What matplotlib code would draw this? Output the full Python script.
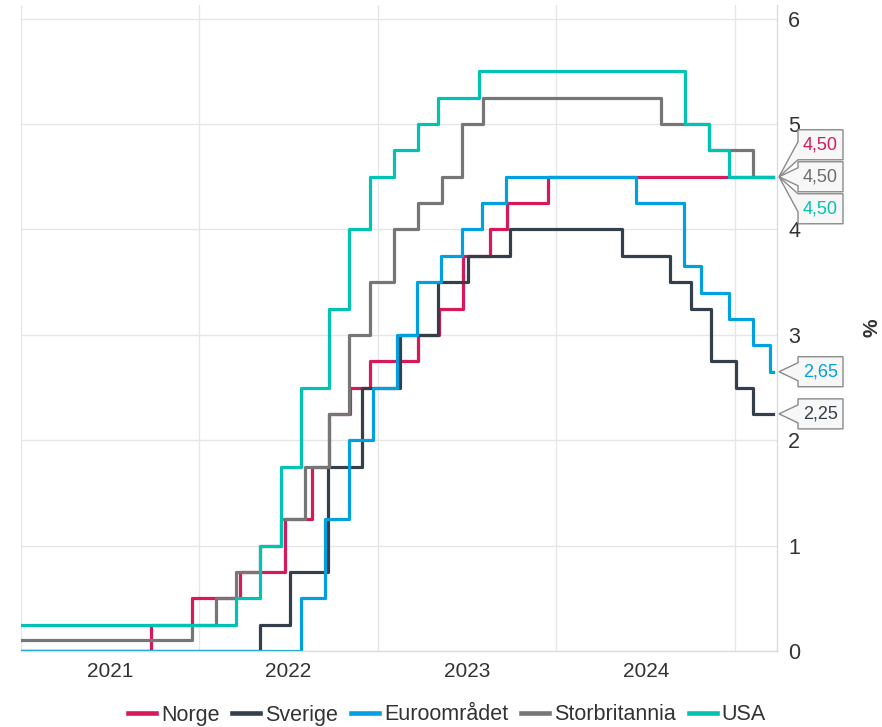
import matplotlib
matplotlib.use('Agg')
import matplotlib.pyplot as plt
import matplotlib.dates as mdates
from matplotlib.patches import Polygon
from matplotlib.transforms import IdentityTransform
from matplotlib.ticker import NullFormatter
import numpy as np
import pandas as pd

plt.rcParams["font.family"] = ["Liberation Sans", "DejaVu Sans"]

# Styringsrenter, datoer for endring og nivå etter endring
start_date = "2021-01-01"
end_date = "2025-03-19"
xmax_date = "2025-03-27"

norge_dates = ["2021-01-01", "2021-09-24", "2021-12-17", "2022-03-25", "2022-06-24",
               "2022-08-19", "2022-09-23", "2022-11-04", "2022-12-16", "2023-03-24",
               "2023-05-05", "2023-06-23", "2023-08-18", "2023-09-22", "2023-12-15"]
norge_values = [0, 0.25, 0.5, 0.75, 1.25, 1.75, 2.25, 2.5, 2.75, 3.0, 3.25, 3.75, 4.0, 4.25, 4.5]

sverige_dates = ["2021-01-01", "2022-05-04", "2022-07-06", "2022-09-21", "2022-11-30",
                 "2023-02-15", "2023-05-03", "2023-07-05", "2023-09-27", "2024-05-15",
                 "2024-08-21", "2024-10-02", "2024-11-13", "2025-01-03", "2025-02-05"]
sverige_values = [0, 0.25, 0.75, 1.75, 2.5, 3.0, 3.5, 3.75, 4.0, 3.75, 3.5, 3.25, 2.75, 2.5, 2.25]

euro_dates = ["2021-01-01", "2022-07-27", "2022-09-14", "2022-11-02", "2022-12-21",
              "2023-02-08", "2023-03-22", "2023-05-10", "2023-06-21", "2023-08-02",
              "2023-09-20", "2024-06-12", "2024-09-18", "2024-10-23", "2024-12-18",
              "2025-02-05", "2025-03-12"]
euro_values = [0, 0.5, 1.25, 2.0, 2.5, 3.0, 3.5, 3.75, 4.0, 4.25, 4.5, 4.25, 3.65, 3.4,
               3.15, 2.9, 2.65]

uk_dates = ["2021-01-01", "2021-12-16", "2022-02-03", "2022-03-17", "2022-05-05",
            "2022-06-16", "2022-08-04", "2022-09-22", "2022-11-03", "2022-12-15",
            "2023-02-02", "2023-03-23", "2023-05-11", "2023-06-22", "2023-08-03",
            "2024-08-01", "2024-11-07", "2025-02-06"]
uk_values = [0.1, 0.25, 0.5, 0.75, 1.0, 1.25, 1.75, 2.25, 3.0, 3.5, 4.0, 4.25, 4.5, 5.0,
             5.25, 5.0, 4.75, 4.5]

usa_dates = ["2021-01-01", "2022-03-17", "2022-05-05", "2022-06-16", "2022-07-28",
             "2022-09-22", "2022-11-03", "2022-12-15", "2023-02-02", "2023-03-23",
             "2023-05-04", "2023-07-27", "2024-09-19", "2024-11-08", "2024-12-19"]
usa_values = [0.25, 0.5, 1.0, 1.75, 2.5, 3.25, 4.0, 4.5, 4.75, 5.0, 5.25, 5.5, 5.0, 4.75, 4.5]

year_ticks = ["2021-01-01", "2022-01-01", "2023-01-01", "2024-01-01", "2025-01-01"]
year_label_pos = ["2021-07-02", "2022-07-02", "2023-07-02", "2024-07-02"]
year_labels = ["2021", "2022", "2023", "2024"]
y_ticks = [0, 1, 2, 3, 4, 5, 6]

series = [
    ("Norge", norge_dates, norge_values, "#d7195b", "#d7195b"),
    ("Sverige", sverige_dates, sverige_values, "#333f4a", "#333f4a"),
    ("Euroområdet", euro_dates, euro_values, "#00a0e1", "#00a0e1"),
    ("Storbritannia", uk_dates, uk_values, "#767676", "#6e6e6e"),
    ("USA", usa_dates, usa_values, "#00c3b1", "#00c3b1"),
]

W, H = 882, 727
fig = plt.figure(figsize=(W / 100, H / 100), dpi=100)
ax = fig.add_axes([21 / W, 76 / H, (777 - 21) / W, (722 - 76) / H])

for name, dates, vals, color, _ in series:
    x = pd.to_datetime(dates + [end_date])
    y = vals + [vals[-1]]
    ax.plot(x, y, drawstyle="steps-post", color=color, lw=2.3, label=name)

ax.set_xlim(pd.Timestamp(start_date), pd.Timestamp(xmax_date))
ax.set_ylim(0, 6.13)

# akser og rutenett
ax.set_xticks(pd.to_datetime(year_ticks))
ax.xaxis.set_major_formatter(NullFormatter())
ax.set_xticks(pd.to_datetime(year_label_pos), minor=True)
ax.set_xticklabels(year_labels, minor=True)
ax.tick_params(axis="x", which="both", length=0, pad=8, labelsize=15, labelcolor="#333333")

ax.yaxis.tick_right()
ax.set_yticks(y_ticks)
ax.set_yticklabels([str(t) for t in y_ticks])
ax.tick_params(axis="y", length=0, pad=8, labelsize=15.5, labelcolor="#333333")

ax.grid(True, which="major", color="#e6e6e6", lw=1)
ax.set_axisbelow(True)
for side in ["top", "left"]:
    ax.spines[side].set_visible(False)
for side in ["right", "bottom"]:
    ax.spines[side].set_color("#dcdcdc")
    ax.spines[side].set_linewidth(1)

fig.text(872 / W, 1 - 328 / H, "%", rotation=90, ha="center", va="center",
         fontsize=15, fontweight="bold", color="#333333")

# verdibokser til høyre
right_px = ax.transAxes.transform((1, 0))[0]
end_num = mdates.date2num(pd.Timestamp(end_date))
groups = {}
for i, s in enumerate(series):
    groups.setdefault(s[2][-1], []).append(i)

for value, idxs in groups.items():
    tip_y = ax.transData.transform((end_num, value))[1]
    n = len(idxs)
    for k, i in enumerate(idxs):
        text_color = series[i][4]
        yc = tip_y + ((n - 1) / 2 - k) * 32
        x0 = right_px + 21
        x1 = x0 + 45
        yb, yt = yc - 15, yc + 15
        bc = yc + np.clip(tip_y - yc, -6, 6)
        pts = [(x0, yt), (x1, yt), (x1, yb), (x0, yb), (x0, bc - 9),
               (right_px + 2, tip_y), (x0, bc + 9)]
        fig.add_artist(Polygon(pts, closed=True, facecolor="#f7f7f7", edgecolor="#8a8a8a",
                               lw=1.0, transform=IdentityTransform(), zorder=5))
        fig.text((x0 + x1) / 2, yc, f"{value:.2f}".replace(".", ","), ha="center",
                 va="center", fontsize=13, color=text_color,
                 transform=IdentityTransform(), zorder=6)

leg = fig.legend(loc="center", bbox_to_anchor=(447 / W, 1 - 715 / H), ncol=5,
                 frameon=False, fontsize=15.5, handlelength=1.3, handletextpad=0.23,
                 columnspacing=0.6, labelcolor="#333333")
for line in leg.get_lines():
    line.set_linewidth(3.3)

fig.savefig("out.png", dpi=100)
